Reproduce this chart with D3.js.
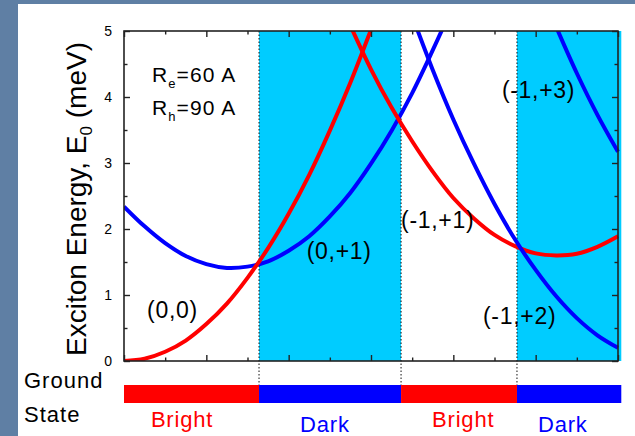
<!DOCTYPE html>
<html>
<head>
<meta charset="utf-8">
<script src="https://cdn.jsdelivr.net/npm/d3@7"></script>
<style>
  html, body { margin: 0; padding: 0; background: #5f7fa4; }
  svg { display: block; }
  text { font-family: "Liberation Sans", Arial, sans-serif; }
</style>
</head>
<body>
<svg id="chart" width="635" height="436"></svg>
<script>
// Flux axis (arbitrary units) and exciton energy (meV)
const xTicksMajor = [0, 1, 2, 3, 4, 5, 6];
const xTicksMinor = [0.5, 1.5, 2.5, 3.5, 4.5, 5.5];
const yTicksMajor = [0, 1, 2, 3, 4, 5];
const yTicksMinor = [0.5, 1.5, 2.5, 3.5, 4.5];

// Dark (cyan) regions of the flux axis
const darkBands = [[1.64, 3.365], [4.773, 6.04]];

// Ground-state character along the flux axis
const groundStates = [
  { from: 0,     to: 1.64,  state: "Bright" },
  { from: 1.64,  to: 3.365, state: "Dark" },
  { from: 3.365, to: 4.773, state: "Bright" },
  { from: 4.773, to: 6.04,  state: "Dark" }
];

// Energy branches, labelled by (l_e, l_h)
const flux00 = [0, 0.25, 0.5, 0.75, 1.0, 1.25, 1.5, 1.75, 2.0, 2.25, 2.5, 2.75, 3.0];
const energy00 = [0, 0.035, 0.14, 0.31, 0.56, 0.87, 1.26, 1.71, 2.23, 2.82, 3.49, 4.22, 5.02];

const flux0p1 = [0, 0.25, 0.5, 0.75, 1.0, 1.25, 1.5, 1.75, 2.0, 2.25, 2.5, 2.75, 3.0, 3.25, 3.5, 3.75, 3.9];
const energy0p1 = [2.34, 2.04, 1.785, 1.59, 1.467, 1.41, 1.43, 1.51, 1.67, 1.89, 2.19, 2.55, 2.99, 3.49, 4.06, 4.71, 5.12];

const fluxM1p1 = [2.75, 3.0, 3.25, 3.5, 3.75, 4.0, 4.25, 4.5, 4.75, 5.0, 5.25, 5.5, 5.75, 6.0];
const energyM1p1 = [5.08, 4.42, 3.84, 3.33, 2.87, 2.47, 2.16, 1.91, 1.74, 1.63, 1.6, 1.625, 1.73, 1.89];

const fluxM1p2 = [3.5, 3.75, 4.0, 4.25, 4.5, 4.75, 5.0, 5.25, 5.5, 5.75, 6.0];
const energyM1p2 = [5.23, 4.41, 3.66, 2.99, 2.38, 1.84, 1.38, 0.98, 0.65, 0.39, 0.2];

const fluxM1p3 = [5.25, 5.5, 5.75, 6.0];
const energyM1p3 = [5.06, 4.36, 3.73, 3.17];

const branchNames = ["(0,0)", "(0,+1)", "(-1,+1)", "(-1,+2)", "(-1,+3)"];

const svg = d3.select("#chart");
const W = 635, H = 436;
const plot = { left: 124, right: 618, top: 31, bottom: 361 };

const x = d3.scaleLinear().domain([0, 6]).range([plot.left, plot.right]);
const y = d3.scaleLinear().domain([0, 5]).range([plot.bottom, plot.top]);

// white slide panel
svg.append("rect").attr("x", 18).attr("y", 4).attr("width", W - 18).attr("height", H - 4).attr("fill", "#ffffff");

// dark bands
svg.append("g").selectAll("rect").data(darkBands).join("rect")
  .attr("x", d => x(d[0]))
  .attr("y", plot.top)
  .attr("width", d => x(d[1]) - x(d[0]))
  .attr("height", plot.bottom - plot.top)
  .attr("fill", "#00ccff");

// boundaries between bright and dark ground states
const edges = [darkBands[0][0], darkBands[0][1], darkBands[1][0]];
const barTop = 385, barH = 18;
svg.append("g").selectAll("line").data(edges).join("line")
  .attr("x1", d => x(d)).attr("x2", d => x(d))
  .attr("y1", plot.top).attr("y2", barTop)
  .attr("stroke", "#111").attr("stroke-width", 1)
  .attr("stroke-dasharray", "1.5,2");

// energy branches
svg.append("clipPath").attr("id", "plotclip").append("rect")
  .attr("x", plot.left).attr("y", plot.top)
  .attr("width", plot.right - plot.left + 4).attr("height", plot.bottom - plot.top);

const line = d3.line().x(d => x(d[0])).y(d => y(d[1])).curve(d3.curveCatmullRom.alpha(0.5));
const branches = [
  { f: flux0p1, e: energy0p1, color: "#0000ff" },
  { f: flux00, e: energy00, color: "#ff0000" },
  { f: fluxM1p1, e: energyM1p1, color: "#ff0000" },
  { f: fluxM1p2, e: energyM1p2, color: "#0000ff" },
  { f: fluxM1p3, e: energyM1p3, color: "#0000ff" }
];
const gCurves = svg.append("g").attr("clip-path", "url(#plotclip)");
branches.forEach(b => {
  gCurves.append("path")
    .datum(b.f.map((v, i) => [v, b.e[i]]))
    .attr("d", line)
    .attr("fill", "none")
    .attr("stroke", b.color)
    .attr("stroke-width", 4)
    .attr("stroke-linecap", "butt");
});

// frame and inward ticks
const axisColor = "#222";
const frame = svg.append("g");
frame.append("rect")
  .attr("x", plot.left).attr("y", plot.top)
  .attr("width", plot.right - plot.left).attr("height", plot.bottom - plot.top)
  .attr("fill", "none").attr("stroke", axisColor).attr("stroke-width", 1.6);

const axB = d3.axisBottom(x).tickValues(xTicksMajor).tickSize(-6).tickFormat("");
const axBm = d3.axisBottom(x).tickValues(xTicksMinor).tickSize(-3.5).tickFormat("");
const axT = d3.axisTop(x).tickValues(xTicksMajor).tickSize(-6).tickFormat("");
const axTm = d3.axisTop(x).tickValues(xTicksMinor).tickSize(-3.5).tickFormat("");
const axL = d3.axisLeft(y).tickValues(yTicksMajor).tickSize(-6).tickPadding(12).tickFormat(d3.format("d"));
const axLm = d3.axisLeft(y).tickValues(yTicksMinor).tickSize(-3.5).tickFormat("");
const axR = d3.axisRight(y).tickValues(yTicksMajor).tickSize(-6).tickFormat("");
const axRm = d3.axisRight(y).tickValues(yTicksMinor).tickSize(-3.5).tickFormat("");

function styleAxis(g) {
  g.select(".domain").remove();
  g.selectAll(".tick line").attr("stroke", axisColor).attr("stroke-width", 1.4);
  g.selectAll(".tick text").attr("fill", "#000").attr("font-size", 14)
    .attr("font-family", "'Liberation Sans', Arial, sans-serif");
}
[[axB, `translate(0,${plot.bottom})`], [axBm, `translate(0,${plot.bottom})`],
 [axT, `translate(0,${plot.top})`], [axTm, `translate(0,${plot.top})`],
 [axL, `translate(${plot.left},0)`], [axLm, `translate(${plot.left},0)`],
 [axR, `translate(${plot.right},0)`], [axRm, `translate(${plot.right},0)`]]
  .forEach(([ax, tr]) => frame.append("g").attr("transform", tr).call(ax).call(styleAxis));

// y-axis title
const yTitle = svg.append("text")
  .attr("transform", `translate(86,${(plot.top + plot.bottom) / 2 + 3}) rotate(-90)`)
  .attr("text-anchor", "middle").attr("font-size", 28).attr("fill", "#000");
yTitle.append("tspan").text("Exciton Energy, E");
yTitle.append("tspan").attr("font-size", 17).attr("dy", 6).text("0");
yTitle.append("tspan").attr("dy", -6).text(" (meV)");

// radii
function radius(label, sub, value, yPos) {
  const t = svg.append("text").attr("x", 152).attr("y", yPos).attr("font-size", 21)
    .attr("letter-spacing", 1.1).attr("fill", "#000");
  t.append("tspan").text(label);
  t.append("tspan").attr("font-size", 13).attr("dy", 6).text(sub);
  t.append("tspan").attr("dy", -6).text(value);
}
radius("R", "e", "=60 A", 82);
radius("R", "h", "=90 A", 115);

// branch labels
const labelAnchors = [[0.28, 0.65], [2.22, 1.545], [3.365, 2.02], [4.36, 0.56], [4.59, 3.98]];
svg.append("g").selectAll("text").data(branchNames).join("text")
  .attr("x", (d, i) => x(labelAnchors[i][0]))
  .attr("y", (d, i) => y(labelAnchors[i][1]))
  .attr("font-size", 23).attr("letter-spacing", 0.7).attr("fill", "#000")
  .text(d => d);

// ground state bar
const gBar = svg.append("g");
gBar.selectAll("rect").data(groundStates).join("rect")
  .attr("x", d => x(d.from)).attr("y", barTop)
  .attr("width", d => x(d.to) - x(d.from)).attr("height", barH)
  .attr("fill", d => d.state === "Bright" ? "#ff0000" : "#0000ff");
const stateLabelAt = [0.705, 2.44, 4.12, 5.33];
gBar.selectAll("text").data(groundStates).join("text")
  .attr("x", (d, i) => x(stateLabelAt[i]))
  .attr("y", d => d.state === "Bright" ? 427 : 432)
  .attr("text-anchor", "middle").attr("font-size", 22).attr("letter-spacing", 0.8)
  .attr("fill", d => d.state === "Bright" ? "#ff0000" : "#0000ff")
  .text(d => d.state);

svg.append("text").attr("x", 24).attr("y", 388).attr("font-size", 22).attr("letter-spacing", 1)
  .attr("fill", "#000").text("Ground");
svg.append("text").attr("x", 24).attr("y", 422).attr("font-size", 22).attr("letter-spacing", 1)
  .attr("fill", "#000").text("State");
</script>
</body>
</html>
